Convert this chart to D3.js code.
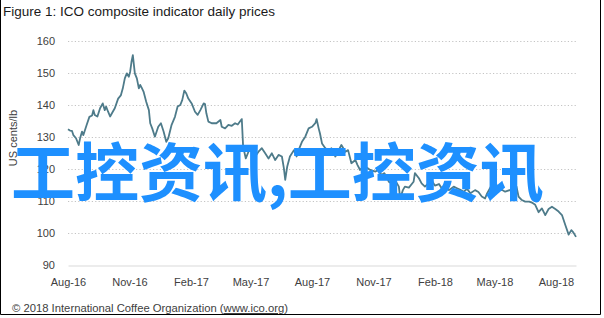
<!DOCTYPE html>
<html>
<head>
<meta charset="utf-8">
<script src="https://cdn.jsdelivr.net/npm/d3@7"></script>
<style>
   body { margin: 0; background: #fff; }
   svg text { font-family: 'Liberation Sans', Arial, sans-serif; }
</style>
</head>
<body>
<div id="chart"></div>
<script>
const title = 'Figure 1: ICO composite indicator daily prices'
const yLabel = 'US cents/lb'
const footer = '© 2018 International Coffee Organization ('
const footerLink = 'www.ico.org'
const watermark = '工控资讯,工控资讯'

// days counted from startDate
const startDate = '2016-08-01'
const endDate = '2018-08-31'
const dayOffsets = [
   0, 3, 6, 8, 12, 16, 18, 21, 23, 28, 32, 36, 38, 40, 44, 48, 52, 55, 57, 60,
   63, 67, 70, 75, 79, 82, 85, 88, 91, 93, 95, 97, 100, 103, 106, 108, 110, 113, 117, 121,
   123, 126, 130, 135, 139, 143, 147, 150, 155, 160, 164, 168, 171, 174, 177, 180, 185, 190, 194, 198,
   203, 205, 207, 210, 215, 222, 228, 230, 235, 240, 245, 250, 254, 260, 262, 266, 270, 275, 280, 285,
   290, 295, 300, 305, 310, 315, 320, 323, 325, 328, 332, 338, 342, 345, 350, 355, 360, 365, 370, 372,
   375, 377, 380, 385, 390, 394, 400, 405, 409, 415, 419, 424, 430, 433, 437, 442, 448, 452, 460, 465,
   469, 473, 477, 480, 484, 490, 495, 497, 501, 504, 510, 517, 519, 525, 529, 534, 539, 544, 549, 555,
   559, 564, 570, 577, 582, 587, 592, 597, 602, 609, 614, 619, 624, 627, 634, 638, 644, 649, 654, 662,
   667, 671, 674, 679, 684, 690, 694, 699, 704, 709, 714, 719, 724, 729, 734, 739, 744, 749, 753, 756,
   760
]
const prices = [
   132.4, 132.0, 131.9, 130.6, 129.6, 127.5, 129.5, 131.7, 130.6, 133.8, 136.3, 136.7, 138.4, 136.9, 136.4, 139.0, 140.5, 138.4, 139.5, 137.9,
   136.4, 137.9, 139.0, 142.0, 143.0, 145.2, 148.3, 149.9, 148.8, 150.4, 153.5, 155.6, 149.9, 148.3, 145.2, 146.3, 145.5, 144.2, 141.0, 138.4,
   134.3, 132.7, 130.1, 133.2, 134.3, 131.7, 128.5, 129.6, 133.8, 136.3, 139.5, 140.0, 141.6, 144.5, 143.6, 142.0, 140.5, 137.9, 136.9, 138.4,
   140.5, 140.3, 137.4, 134.8, 134.3, 134.3, 135.3, 133.2, 132.7, 133.8, 133.5, 134.3, 133.9, 135.6, 127.0, 123.3, 125.4, 127.0, 123.9, 125.4,
   126.5, 124.9, 123.3, 124.9, 122.8, 124.4, 123.9, 120.2, 116.6, 120.8, 123.9, 125.9, 123.9, 125.9, 128.5, 130.1, 132.7, 133.2, 134.3, 135.6,
   132.7, 131.1, 128.0, 126.5, 125.4, 126.5, 123.9, 125.9, 127.5, 125.4, 125.9, 121.8, 122.8, 121.3, 119.7, 120.8, 120.3, 119.7, 119.2, 119.8,
   118.1, 118.7, 117.6, 116.0, 115.5, 116.3, 114.5, 110.8, 113.4, 114.5, 114.2, 116.0, 118.7, 117.1, 115.5, 114.5, 115.5, 116.5, 114.8, 115.3,
   114.0, 115.0, 113.4, 114.5, 114.0, 113.5, 112.9, 113.8, 112.4, 113.4, 112.8, 111.4, 110.8, 112.4, 115.0, 116.8, 113.4, 113.5, 112.9, 113.5,
   115.0, 114.5, 111.4, 110.3, 109.8, 109.8, 109.5, 108.8, 106.5, 107.7, 105.6, 107.5, 108.2, 107.5, 106.7, 105.6, 102.5, 99.5, 100.9, 100.2,
   98.8
]

const yTicks = [90, 100, 110, 120, 130, 140, 150, 160]
const xTickDates = ['2016-08-01', '2016-11-01', '2017-02-01', '2017-05-01', '2017-08-01',
   '2017-11-01', '2018-02-01', '2018-05-01', '2018-08-01']

const width = 604
const height = 318
const margin = { top: 41, right: 28, bottom: 53, left: 68 }

const parse = d3.utcParse('%Y-%m-%d')
const start = parse(startDate)
const data = dayOffsets.map((d, i) => ({ date: d3.utcDay.offset(start, d), value: prices[i] }))

const svg = d3
   .select('#chart')
   .append('svg')
   .attr('width', width)
   .attr('height', height)

const x = d3.scaleUtc()
   .domain([start, parse(endDate)])
   .range([margin.left, width - margin.right])

const y = d3.scaleLinear()
   .domain([90, 160])
   .range([height - margin.bottom, margin.top])

// frame
svg.append('path')
   .attr('d', `M0.5,0 V${height - 3.5} H${width - 3.5} V0`)
   .attr('fill', 'none')
   .attr('stroke', '#000')
   .attr('stroke-width', 1)

svg.append('text')
   .attr('x', 3)
   .attr('y', 16)
   .attr('font-size', 13)
   .attr('fill', '#1a1a1a')
   .attr('textLength', 272)
   .attr('lengthAdjust', 'spacingAndGlyphs')
   .text(title)

// gridlines
svg.append('g')
   .selectAll('line')
   .data(yTicks.filter(d => d > 90))
   .enter()
   .append('line')
   .attr('x1', x.range()[0])
   .attr('x2', x.range()[1])
   .attr('y1', d => Math.round(y(d)) + 0.5)
   .attr('y2', d => Math.round(y(d)) + 0.5)
   .attr('stroke', '#c4c4c4')
   .attr('stroke-width', 1.2)
   .attr('stroke-dasharray', '1.2,2.2')

const yAxis = svg.append('g')
   .attr('transform', `translate(${margin.left - 10},0)`)
   .call(d3.axisLeft(y).tickValues(yTicks).tickSize(0).tickPadding(3))
yAxis.select('.domain').remove()
yAxis.selectAll('text')
   .attr('font-size', 11)
   .attr('fill', '#404040')
   .attr('font-family', "'Liberation Sans', Arial, sans-serif")

const xAxis = svg.append('g')
   .attr('transform', `translate(0,${Math.round(y(90)) + 0.5})`)
   .call(d3.axisBottom(x).tickValues(xTickDates.map(parse)).tickFormat(d3.utcFormat('%b-%y')).tickSize(0).tickPadding(13))
xAxis.select('.domain')
   .attr('stroke', '#d9d9d9')
   .attr('stroke-width', 1.2)
xAxis.selectAll('text')
   .attr('font-size', 11)
   .attr('fill', '#404040')
   .attr('font-family', "'Liberation Sans', Arial, sans-serif")

svg.append('text')
   .attr('transform', `translate(17,${(margin.top + height - margin.bottom) / 2 - 15}) rotate(-90)`)
   .attr('text-anchor', 'middle')
   .attr('font-size', 11)
   .attr('fill', '#404040')
   .text(yLabel)

const line = d3.line()
   .x(d => x(d.date))
   .y(d => y(d.value))

svg.append('path')
   .datum(data)
   .attr('d', line)
   .attr('fill', 'none')
   .attr('stroke', '#4e7b8a')
   .attr('stroke-width', 1.8)
   .attr('stroke-linejoin', 'round')

const foot = svg.append('text')
   .attr('x', 12)
   .attr('y', 312)
   .attr('font-size', 10.5)
   .attr('fill', '#404040')
   .attr('textLength', 276)
   .attr('lengthAdjust', 'spacingAndGlyphs')
foot.append('tspan').text(footer)
foot.append('tspan').attr('text-decoration', 'underline').text(footerLink)
foot.append('tspan').text(')')

svg.append('text')
   .attr('x', 11)
   .attr('y', 196)
   .attr('font-size', 64)
   .attr('font-weight', 700)
   .attr('fill', '#1e90ff')
   .style('font-family', "'Noto Sans CJK SC', sans-serif")
   .text(watermark)
</script>
</body>
</html>
